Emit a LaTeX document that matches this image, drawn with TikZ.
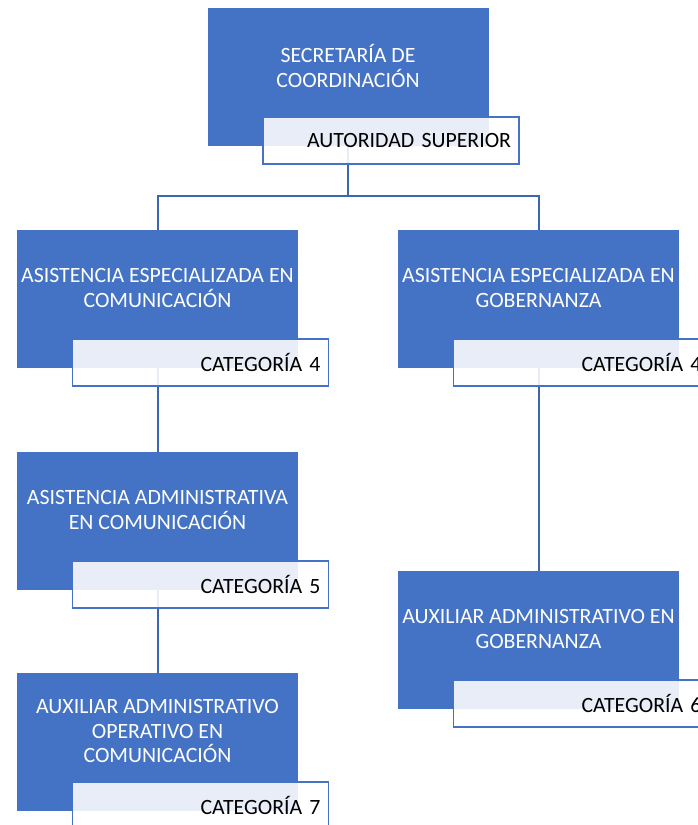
\documentclass[tikz,border=0pt]{standalone}
\usepackage{fontspec}
\setmainfont{Carlito}
\usetikzlibrary{positioning}
\definecolor{orgblue}{HTML}{4472C4}
\definecolor{linkblue}{HTML}{3D66B0}

\begin{document}
\begin{tikzpicture}[x=1pt, y=-1pt, font=\fontsize{21.8}{24.5}\selectfont,
    unit/.style={fill=orgblue, minimum width=281pt, minimum height=138pt, inner sep=0pt},
    unittext/.style={text=white, align=center, inner sep=0pt},
    rank/.style={draw=orgblue, line width=1.5pt, fill=white, fill opacity=0.88, text opacity=1,
        text width=240pt, inner xsep=8pt, inner ysep=0pt, align=right, minimum height=47pt, anchor=north west},
    link/.style={draw=linkblue, line width=2pt}]
    \useasboundingbox (0,0) rectangle (698,825);
    \clip (0,0) rectangle (698,825);

    % blue units
    \foreach \n/\x/\y in {sec/348/77, esc/157.5/299, adc/157.5/521, auc/157.5/742, esg/538.5/299, aug/538.5/640}
        \node[unit] (\n) at (\x,\y) {};

    % connectors
    \draw[link] (sec.south) -- ++(0,50) coordinate (fork) -| (esc.north);
    \draw[link] (fork) -| (esg.north);
    \draw[link] (esc.south) -- (adc.north);
    \draw[link] (adc.south) -- (auc.north);
    \draw[link] (esg.south) -- (aug.north);

    % category tabs
    \foreach \n/\cat in {sec/AUTORIDAD SUPERIOR, esc/CATEGORÍA 4, adc/CATEGORÍA 5, auc/CATEGORÍA 7, esg/CATEGORÍA 4, aug/CATEGORÍA 6}
        \node[rank] (\n-cat) at ([xshift=55pt,yshift=30pt]\n.south west) {\cat};

    % unit names
    \foreach \n/\txt in {sec/{SECRETARÍA DE\\COORDINACIÓN},
            esc/{ASISTENCIA ESPECIALIZADA EN\\COMUNICACIÓN},
            adc/{ASISTENCIA ADMINISTRATIVA\\EN COMUNICACIÓN},
            auc/{AUXILIAR ADMINISTRATIVO\\OPERATIVO EN\\COMUNICACIÓN},
            esg/{ASISTENCIA ESPECIALIZADA EN\\GOBERNANZA},
            aug/{AUXILIAR ADMINISTRATIVO EN\\GOBERNANZA}}
        \node[unittext] (\n-txt) at ([yshift=11pt]\n.center) {\txt};
\end{tikzpicture}
\end{document}
